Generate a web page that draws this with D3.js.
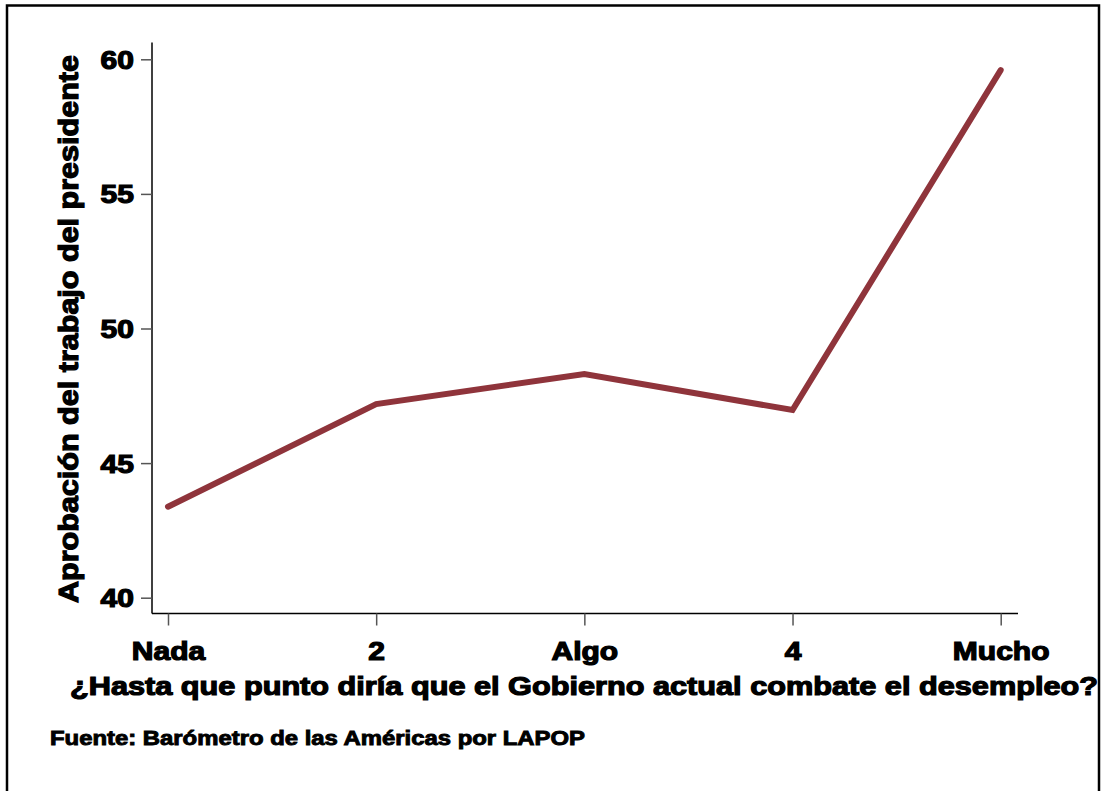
<!DOCTYPE html>
<html><head><meta charset="utf-8">
<script src="https://cdn.jsdelivr.net/npm/d3@7"></script>
<style>
html,body{margin:0;padding:0;background:#fff;}
svg{display:block;font-family:"Liberation Sans",Arial,sans-serif;font-weight:bold;}
</style></head>
<body>
<script>
const categories = ["Nada","2","Algo","4","Mucho"];
const values = [43.38, 47.19, 48.31, 46.97, 59.6];
const yTicks = [40,45,50,55,60];
const yTitle = "Aprobación del trabajo del presidente";
const xTitle = "¿Hasta que punto diría que el Gobierno actual combate el desempleo?";
const source = "Fuente: Barómetro de las Américas por LAPOP";

const W = 1101, H = 791;
const FONT = "Liberation Sans, Arial, sans-serif";
const WIDEN = 1.2;
const svg = d3.select("body").append("svg").attr("width", W).attr("height", H);
svg.append("rect").attr("x",0).attr("y",0).attr("width",W).attr("height",H).attr("fill","#fff");
// frame
svg.append("rect").attr("x",7).attr("y",5.5).attr("width",1092).attr("height",800)
  .attr("fill","none").attr("stroke","#000").attr("stroke-width",2.5);

const x = d3.scalePoint().domain(categories).range([168, 1000.7]);
const y = d3.scaleLinear().domain([40,60]).range([597.7, 59.3]);

function widen(sel, k){
  sel.each(function(){
    const w = this.getComputedTextLength();
    d3.select(this).attr("textLength", w*k).attr("lengthAdjust","spacingAndGlyphs");
  });
}
function fitTo(t, target){
  t.attr("textLength", target).attr("lengthAdjust","spacingAndGlyphs");
}

// y axis
const yAxis = svg.append("g").attr("transform","translate(152,0)")
  .call(d3.axisLeft(y).tickValues(yTicks).tickSize(11).tickPadding(7).tickFormat(d3.format("d")));
yAxis.attr("font-family",FONT).attr("font-size",25);
yAxis.select(".domain").attr("d","M0,42.5V613.5").attr("stroke","#000").attr("stroke-width",1.5);
yAxis.selectAll(".tick line").attr("stroke","#555").attr("stroke-width",1.5);
yAxis.selectAll(".tick text").attr("font-size",25).attr("font-weight","bold").attr("font-family",FONT)
  .attr("fill","#000").attr("stroke","#000").attr("stroke-width",1.2).attr("dy","0.36em")
  .call(widen, WIDEN);

// x axis
const xAxis = svg.append("g").attr("transform","translate(0,613.5)")
  .call(d3.axisBottom(x).tickSize(12).tickPadding(15));
xAxis.attr("font-family",FONT).attr("font-size",25);
xAxis.select(".domain").attr("d","M152,0H1018").attr("stroke","#000").attr("stroke-width",1.5);
xAxis.selectAll(".tick line").attr("stroke","#555").attr("stroke-width",1.5);
xAxis.selectAll(".tick text").attr("font-size",25).attr("font-weight","bold").attr("font-family",FONT)
  .attr("fill","#000").attr("stroke","#000").attr("stroke-width",1.2).attr("dy","0").attr("y",46)
  .call(widen, WIDEN);

// line
const line = d3.line().x((d,i)=>x(categories[i])).y(d=>y(d));
svg.append("path").datum(values).attr("d",line).attr("fill","none")
  .attr("stroke","#8f343b").attr("stroke-width",6).attr("stroke-linecap","round").attr("stroke-linejoin","miter");

// y title
const yt = svg.append("text").attr("transform","translate(78,329) rotate(-90)")
  .attr("text-anchor","middle").attr("font-size",27).attr("font-family",FONT)
  .attr("stroke","#000").attr("stroke-width",1.2).text(yTitle);
fitTo(yt, 548);
// x title
const xt = svg.append("text").attr("x",70).attr("y",695).attr("font-size",26).attr("font-family",FONT)
  .attr("stroke","#000").attr("stroke-width",1.2).text(xTitle);
fitTo(xt, 1028);
// source
const st = svg.append("text").attr("x",50).attr("y",745).attr("font-size",19.5).attr("font-family",FONT)
  .attr("stroke","#000").attr("stroke-width",0.9).text(source);
fitTo(st, 535);
</script>
</body></html>
